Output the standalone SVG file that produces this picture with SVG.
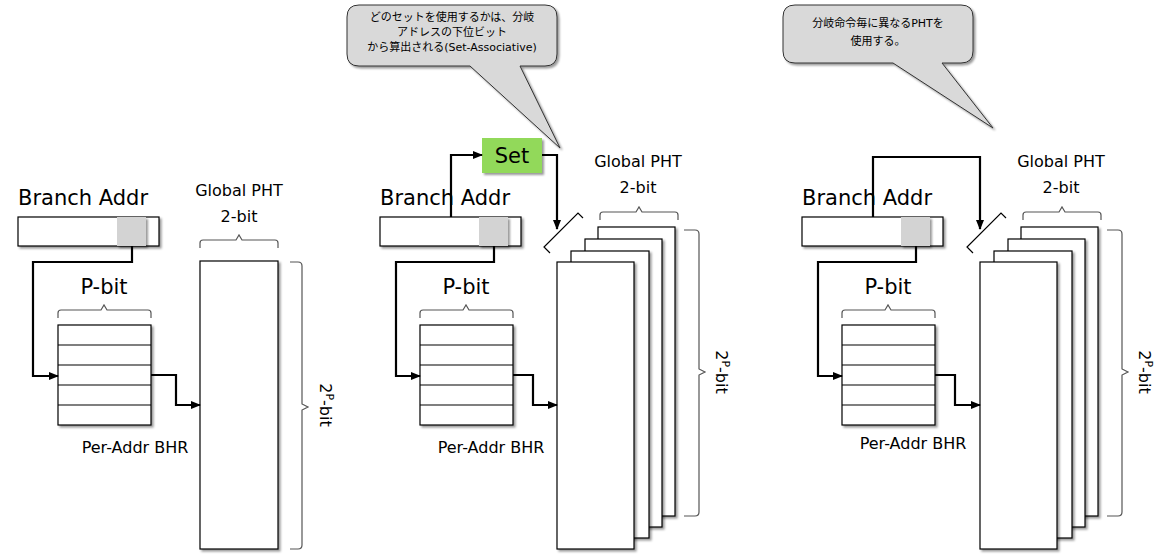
<svg xmlns="http://www.w3.org/2000/svg" width="1168" height="559" viewBox="0 0 1168 559">
<defs>
<marker id="ah" markerWidth="10" markerHeight="8" refX="9" refY="4" orient="auto" markerUnits="userSpaceOnUse"><path d="M0,0 L10,4 L0,8 z" fill="#000"/></marker>
<filter id="sh" x="-10%" y="-10%" width="130%" height="130%"><feDropShadow dx="2" dy="2" stdDeviation="1.2" flood-color="#000" flood-opacity="0.4"/></filter>
</defs>
<style>
.box{fill:#fff;stroke:#000;stroke-width:1.2;filter:url(#sh)}
.gray{fill:#d3d3d3;filter:url(#sh)}
.ln{fill:none;stroke:#000;stroke-width:1.2}
.br{fill:none;stroke:#555;stroke-width:1.2}
.con{fill:none;stroke:#000;stroke-width:2.2;marker-end:url(#ah)}
.t{font-family:"DejaVu Sans",sans-serif;fill:#000}
.big{font-size:21px}
.mid{font-size:16px}
.sm{font-family:"DejaVu Sans","Noto Sans CJK JP",sans-serif;font-size:11px;fill:#000}
.call{fill:#d9d9d9;stroke:#333;stroke-width:1;filter:url(#sh)}
.set{fill:#92d95a;filter:url(#sh)}
</style>
<rect width="1168" height="559" fill="#fff"/>

<!-- Left panel -->
<g id="left-branch">
<text class="t big" x="18" y="205">Branch Addr</text>
<rect class="box" x="18" y="217" width="141" height="29"/>
<rect class="gray" x="117" y="217" width="29" height="29"/>
</g>
<g id="left-bhr">
<text class="t big" x="104" y="294" text-anchor="middle">P-bit</text>
<path class="br" d="M58,318 v-5 q0,-3 3,-3 h40 l3,-5 l3,5 h41 q3,0 3,3 v5"/>
<rect class="box" x="58" y="325" width="93" height="100"/>
<path class="ln" d="M58,345h93M58,365h93M58,385h93M58,405h93"/>
<text class="t mid" x="135" y="453" text-anchor="middle">Per-Addr BHR</text>
</g>
<g id="left-pht">
<text class="t mid" x="239" y="196" text-anchor="middle">Global PHT</text>
<text class="t mid" x="239" y="222" text-anchor="middle">2-bit</text>
<path class="br" d="M200,248 v-5 q0,-3 3,-3 h33 l3,-5 l3,5 h33 q3,0 3,3 v5"/>
<rect class="box" x="200" y="261" width="78" height="288"/>
<path class="br" d="M290,262 h8 q4,0 4,4 v138 l6,3 l-6,3 v135 q0,4 -4,4 h-8"/>
<text class="t mid" transform="translate(320,405) rotate(90)" text-anchor="middle">2<tspan dy="-6" font-size="11">P</tspan><tspan dy="6">-bit</tspan></text>
</g>

<!-- Middle panel -->
<g id="mid-callout">
<path class="call" d="M359,5 H545 Q557,5 557,17 V54 Q557,66 545,66 H520 L560,148 L470,66 H359 Q347,66 347,54 V17 Q347,5 359,5 z"/>
<text class="sm" x="452" y="21" text-anchor="middle">どのセットを使用するかは、分岐</text>
<text class="sm" x="452" y="36" text-anchor="middle">アドレスの下位ビット</text>
<text class="sm" x="452" y="51" text-anchor="middle">から算出される(Set-Associative)</text>
</g>
<g id="mid-set">
<rect class="set" x="482" y="138" width="60" height="35"/>
<text class="t big" x="512" y="163" text-anchor="middle">Set</text>
</g>
<g id="mid-branch">
<text class="t big" x="380" y="205">Branch Addr</text>
<rect class="box" x="380" y="217" width="141" height="29"/>
<rect class="gray" x="479" y="217" width="29" height="29"/>
</g>
<g id="mid-bhr">
<text class="t big" x="466" y="294" text-anchor="middle">P-bit</text>
<path class="br" d="M420,318 v-5 q0,-3 3,-3 h40 l3,-5 l3,5 h41 q3,0 3,3 v5"/>
<rect class="box" x="420" y="325" width="93" height="100"/>
<path class="ln" d="M420,345h93M420,365h93M420,385h93M420,405h93"/>
<text class="t mid" x="491" y="453" text-anchor="middle">Per-Addr BHR</text>
</g>
<g id="mid-mux"><path class="ln" d="M550,253 L544,247 L578,213 L583,218"/></g>
<g id="mid-pht">
<text class="t mid" x="638" y="167" text-anchor="middle">Global PHT</text>
<text class="t mid" x="638" y="193" text-anchor="middle">2-bit</text>
<path class="br" d="M600,220 v-5 q0,-3 3,-3 h33 l3,-5 l3,5 h33 q3,0 3,3 v5"/>
<rect class="box" x="598" y="227" width="77" height="289"/>
<rect class="box" x="585" y="239" width="77" height="288"/>
<rect class="box" x="571" y="251" width="78" height="287"/>
<rect class="box" x="557" y="262" width="77" height="287"/>
<path class="br" d="M684,230 h11 q4,0 4,4 v135 l6,3 l-6,3 v137 q0,4 -4,4 h-11"/>
<text class="t mid" transform="translate(716,372) rotate(90)" text-anchor="middle">2<tspan dy="-6" font-size="11">P</tspan><tspan dy="6">-bit</tspan></text>
</g>

<!-- Right panel -->
<g id="right-callout">
<path class="call" d="M795,5 H961 Q973,5 973,17 V51 Q973,63 961,63 H942 L993,128 L893,63 H795 Q783,63 783,51 V17 Q783,5 795,5 z"/>
<text class="sm" x="878" y="27" text-anchor="middle">分岐命令毎に異なるPHTを</text>
<text class="sm" x="878" y="45" text-anchor="middle">使用する。</text>
</g>
<g id="right-branch">
<text class="t big" x="802" y="205">Branch Addr</text>
<rect class="box" x="802" y="217" width="141" height="29"/>
<rect class="gray" x="901" y="217" width="29" height="29"/>
</g>
<g id="right-bhr">
<text class="t big" x="888" y="294" text-anchor="middle">P-bit</text>
<path class="br" d="M842,318 v-5 q0,-3 3,-3 h40 l3,-5 l3,5 h41 q3,0 3,3 v5"/>
<rect class="box" x="842" y="325" width="93" height="100"/>
<path class="ln" d="M842,345h93M842,365h93M842,385h93M842,405h93"/>
<text class="t mid" x="913" y="449" text-anchor="middle">Per-Addr BHR</text>
</g>
<g id="right-mux"><path class="ln" d="M973,253 L967,247 L1001,213 L1006,218"/></g>
<g id="right-pht">
<text class="t mid" x="1061" y="167" text-anchor="middle">Global PHT</text>
<text class="t mid" x="1061" y="193" text-anchor="middle">2-bit</text>
<path class="br" d="M1023,220 v-5 q0,-3 3,-3 h33 l3,-5 l3,5 h33 q3,0 3,3 v5"/>
<rect class="box" x="1021" y="227" width="77" height="289"/>
<rect class="box" x="1008" y="239" width="77" height="288"/>
<rect class="box" x="994" y="251" width="78" height="287"/>
<rect class="box" x="980" y="262" width="77" height="287"/>
<path class="br" d="M1107,230 h11 q4,0 4,4 v135 l6,3 l-6,3 v137 q0,4 -4,4 h-11"/>
<text class="t mid" transform="translate(1139,372) rotate(90)" text-anchor="middle">2<tspan dy="-6" font-size="11">P</tspan><tspan dy="6">-bit</tspan></text>
</g>

<g id="connectors">
<path class="con" d="M132,246 V262 H33 V376 H58"/>
<path class="con" d="M151,375 H176 V405 H200"/>
<path class="con" d="M494,246 V262 H396 V376 H420"/>
<path class="con" d="M513,375 H533 V405 H557"/>
<path class="con" d="M451,217 V155 H482"/>
<path class="con" d="M542,155 H557 V229"/>
<path class="con" d="M916,246 V262 H818 V376 H842"/>
<path class="con" d="M935,375 H955 V405 H980"/>
<path class="con" d="M873,217 V157 H980 V229"/>
</g>
</svg>
